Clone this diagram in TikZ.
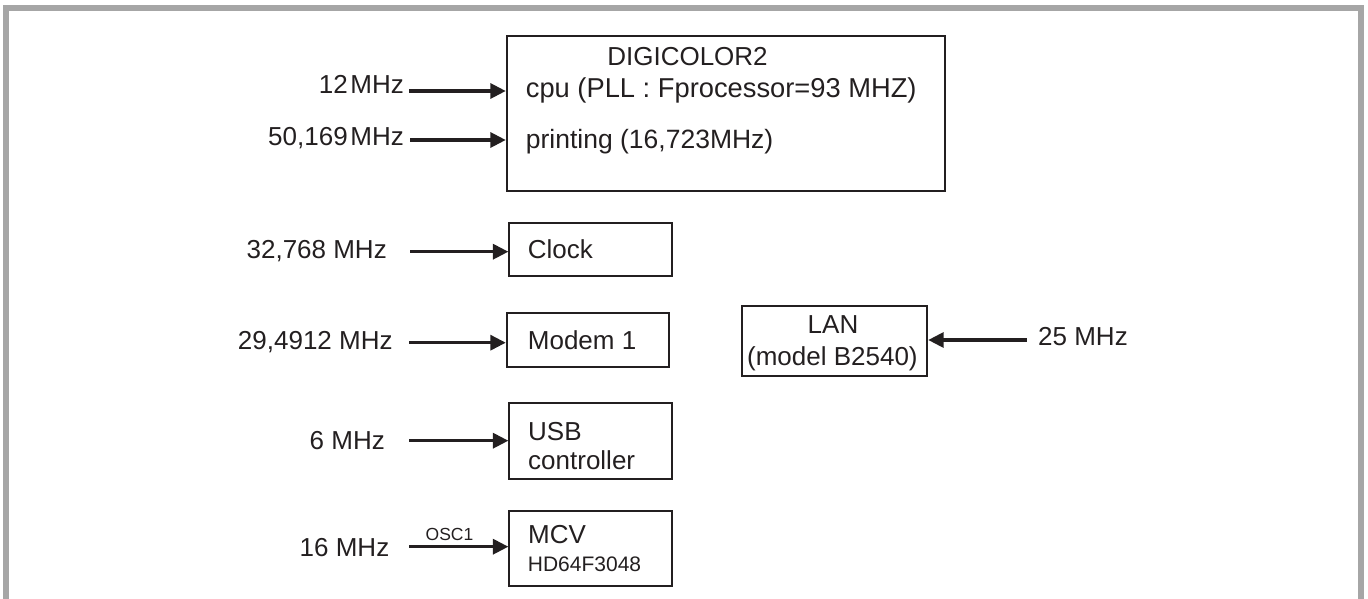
\documentclass[tikz,border=0pt]{standalone}
\usepackage{fontspec}
\setmainfont{Liberation Sans}
\usetikzlibrary{arrows.meta}
\definecolor{ink}{HTML}{231F20}
\definecolor{frame}{HTML}{A6A6A6}
\tikzset{
  box/.style={draw=ink, line width=1.8pt, inner sep=0pt, fill=none},
  txt/.style={text=ink, inner sep=0pt, font=\fontsize{26}{31}\selectfont},
  small/.style={text=ink, inner sep=0pt, font=\fontsize{21}{25}\selectfont},
  tiny/.style={text=ink, inner sep=0pt, font=\fontsize{17.5}{21}\selectfont},
  arr/.style={draw=ink, line width=3.3pt, -{Triangle[length=15.5pt,width=15pt]}},
}
\begin{document}
\begin{tikzpicture}[x=1pt,y=-1pt]
\useasboundingbox (0,0) rectangle (1368,599);
% frame
\fill[frame] (3,5) rectangle (1364,11);
\fill[frame] (3,5) rectangle (9,599);
\fill[frame] (1358,5) rectangle (1364,599);
% boxes
\node[box, minimum width=438.3pt, minimum height=154.7pt] (dig) at (725.85,113.35) {};
\node[box, minimum width=162.4pt, minimum height=53.3pt] (clock) at (590.5,249.35) {};
\node[box, minimum width=162.3pt, minimum height=53.4pt] (modem) at (587.85,340) {};
\node[box, minimum width=162.4pt, minimum height=76pt] (usb) at (590.5,441.3) {};
\node[box, minimum width=162.4pt, minimum height=75pt] (mcv) at (590.5,548.5) {};
\node[box, minimum width=185.6pt, minimum height=70.3pt] (lan) at (834.5,340.85) {};
% box texts
\node[txt, anchor=base] (digt) at (687.5,66) {DIGICOLOR2};
\node[txt, anchor=base west, font=\fontsize{27.3}{31}\selectfont] (cput) at (525.7,98) {cpu (PLL : Fprocessor=93 MHZ)};
\node[txt, anchor=base west, font=\fontsize{26.5}{31}\selectfont] (prnt) at (525.7,149) {printing (16,723MHz)};
\node[txt, anchor=base west] (clockt) at (527.7,258) {Clock};
\node[txt, anchor=base west] (modemt) at (527.7,349) {Modem 1};
\node[txt, anchor=base west] (usbt) at (528,440) {USB};
\node[txt, anchor=base west] (usbt2) at (528,469) {controller};
\node[txt, anchor=base west] (mcvt) at (528,543) {MCV};
\node[small, anchor=base west] (mcvt2) at (527.7,571) {HD64F3048};
\node[txt, anchor=base] (lant) at (833,333) {LAN};
\node[txt, anchor=base] (lant2) at (832.4,365) {(model B2540)};
% frequency labels
\node[txt, anchor=base east] (f12) at (404,93.3) {12\kern0.1em MHz};
\node[txt, anchor=base east] (f50) at (404,146) {50,169\kern0.1em MHz};
\node[txt, anchor=base] (f32) at (316.7,258) {32,768 MHz};
\node[txt, anchor=base] (f29) at (315.3,349) {29,4912 MHz};
\node[txt, anchor=base] (f6) at (347.3,449) {6 MHz};
\node[txt, anchor=base] (f16) at (344.5,556) {16 MHz};
\node[txt, anchor=base west] (f25) at (1038,345) {25 MHz};
\node[tiny, anchor=base] (osc) at (449.5,540) {OSC1};
% arrow tails
\coordinate (t12) at (409,91);
\coordinate (t50) at (410,140);
\coordinate (tclk) at (410,251.7);
\coordinate (tmod) at (409,342.7);
\coordinate (tusb) at (409,440.7);
\coordinate (tmcv) at (409,546.7);
\coordinate (tlan) at (1026.7,340);
% arrows
\draw[arr] (t12) -- (t12 -| dig.west);
\draw[arr] (t50) -- (t50 -| dig.west);
\draw[arr] (tclk) -- (tclk -| clock.west);
\draw[arr] (tmod) -- (tmod -| modem.west);
\draw[arr] (tusb) -- (tusb -| usb.west);
\draw[arr] (tmcv) -- (tmcv -| mcv.west);
\draw[arr] (tlan) -- (tlan -| lan.east);
\end{tikzpicture}
\end{document}
